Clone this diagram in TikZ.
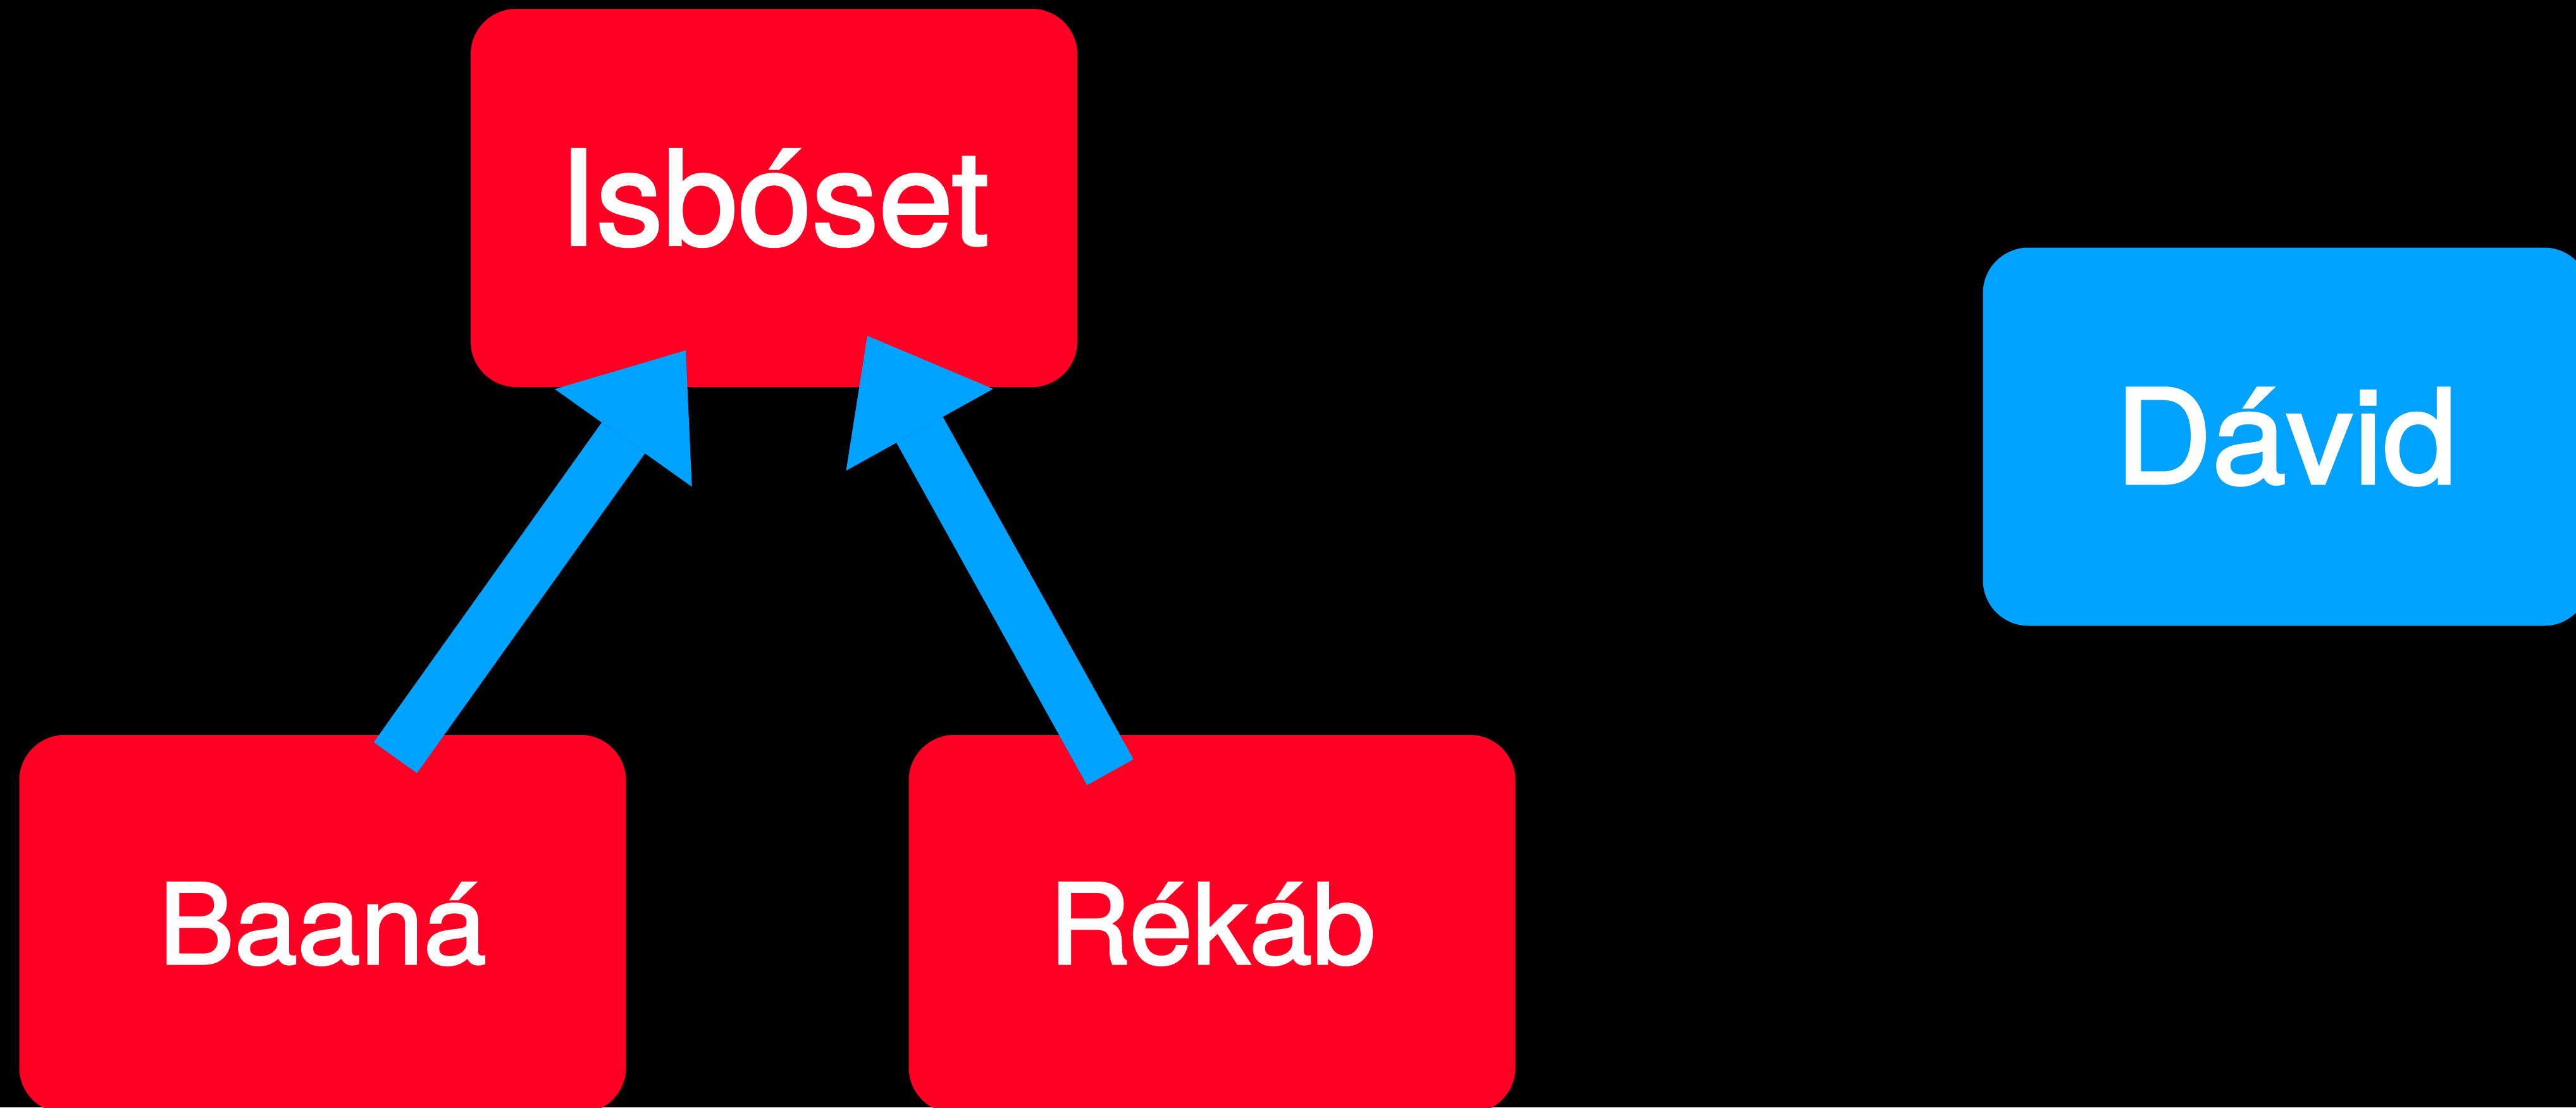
\documentclass[tikz,border=0pt]{standalone}
\usepackage{fontspec}
\setmainfont{TeX Gyre Heros}[FakeBold=2, FakeStretch=1.02]
\usetikzlibrary{arrows.meta}
\definecolor{boxred}{RGB}{255,0,36}
\definecolor{arrowblue}{RGB}{0,162,255}
\tikzset{
  box/.style={rectangle, rounded corners=0.72cm, fill=#1, text=white,
    minimum width=9.59cm, minimum height=5.98cm, inner sep=0pt},
  bigtext/.style={font=\fontsize{59pt}{62pt}\selectfont},
  smalltext/.style={font=\fontsize{50pt}{53pt}\selectfont},
  link/.style={draw=arrowblue, line width=0.84cm, line cap=butt,
    -{Triangle[length=1.7cm,width=2.66cm,line width=0pt]}}
}
\begin{document}
\begin{tikzpicture}
\useasboundingbox (0,0) rectangle (40.72,-17.51);
\fill[black] (0,0) rectangle (40.72,-17.51);
\clip (0,0) rectangle (40.72,-17.51);
\node[box=boxred, bigtext] (isboset) at (12.235,-3.13) {Isbóset};
\node[box=arrowblue, bigtext] (david) at (36.14,-6.905) {Dávid};
\node[box=boxred, smalltext] (baana) at (5.10,-14.61) {Baaná};
\node[box=boxred, smalltext] (rekab) at (19.16,-14.61) {Rékáb};
\coordinate (a1s) at (6.25,-11.98);
\coordinate (a1t) at (10.84,-5.54);
\coordinate (a2s) at (17.55,-12.21);
\coordinate (a2t) at (13.71,-5.31);
\draw[link] (a1s) -- (a1t);
\draw[link] (a2s) -- (a2t);
\end{tikzpicture}
\end{document}
